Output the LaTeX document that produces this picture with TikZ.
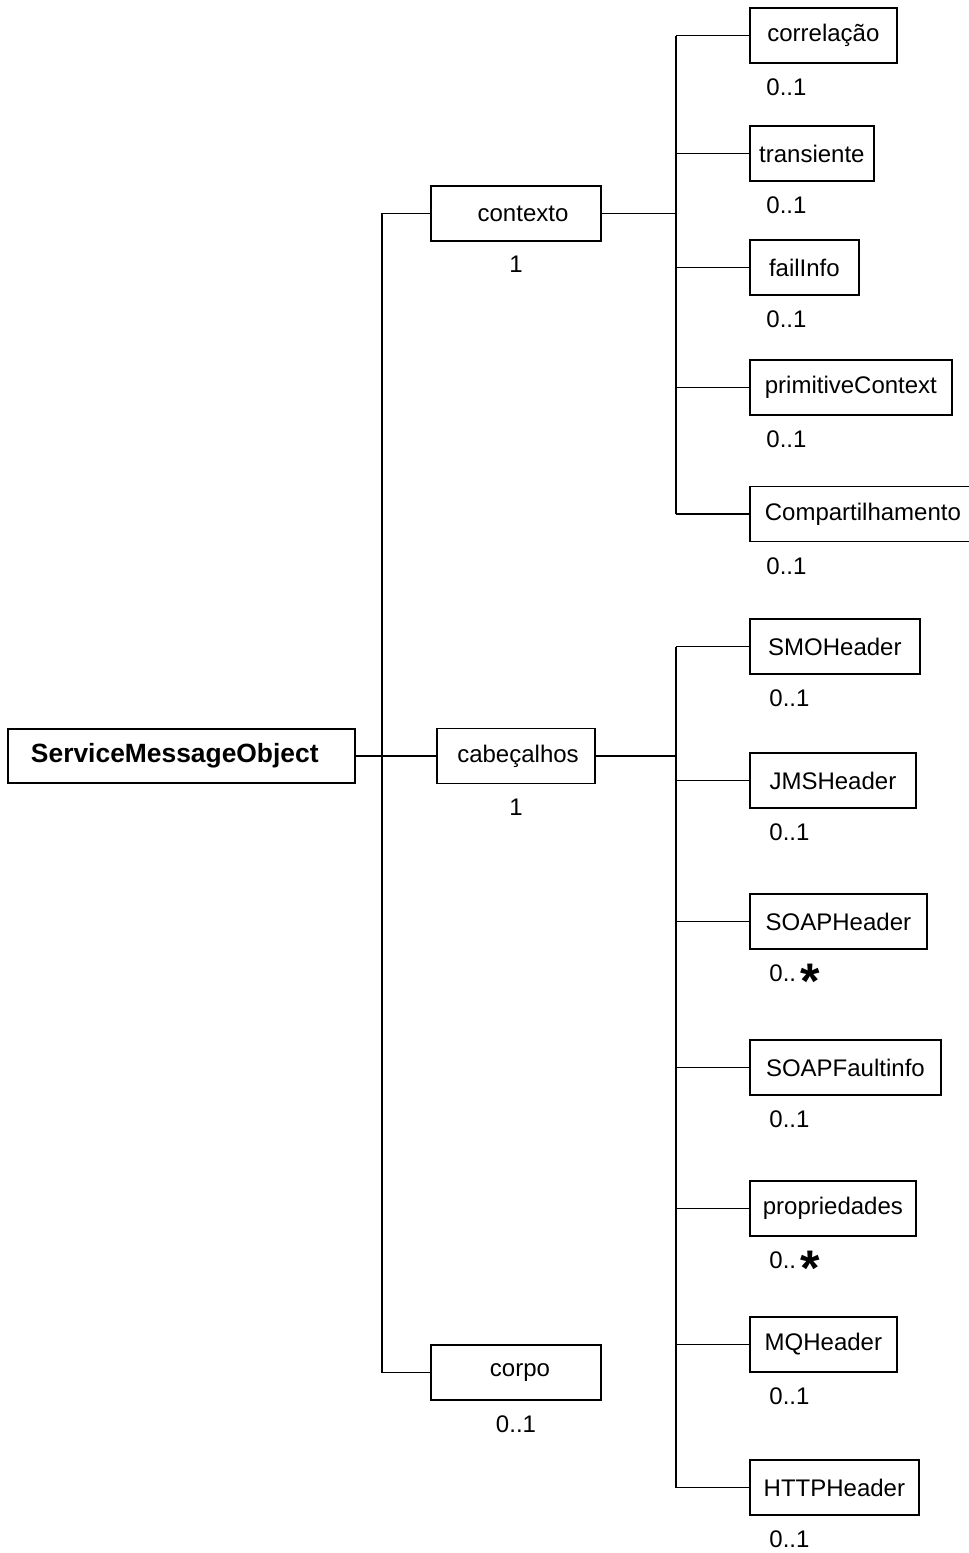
\documentclass[tikz,border=0pt]{standalone}
\usepackage{fontspec}
\setmainfont{Liberation Sans}
\usepackage{amsmath}
\usetikzlibrary{positioning}

\tikzset{
  box/.style={draw, line width=0.9pt, minimum height=27.5pt, inner sep=0pt,
    font=\fontsize{12}{14}\selectfont},
  part/.style={box, anchor=west},
  mult/.style={inner sep=0pt, font=\fontsize{12}{14}\selectfont},
  link/.style={line width=0.9pt}
}
\newcommand{\manymult}{0..\,\smash{\raisebox{-8.6pt}{\fontsize{25}{25}\selectfont\bfseries *}}}

\begin{document}
\begin{tikzpicture}[x=0.5pt,y=-0.5pt]
  \useasboundingbox (0,0) rectangle (969,1553);

  % root
  \node[box, minimum height=27pt, inner xsep=11.5pt, text width=150.5pt, align=left,
    font=\bfseries\fontsize{13.2}{15}\selectfont] (smo) at (181.5,756) {ServiceMessageObject};

  % first level
  \node[box, minimum width=85pt] (ctx)   at (516,213.5)  {\hspace*{7pt}contexto};
  \node[box, minimum width=79pt] (cab)   at (516,756)    {\hspace*{2pt}cabeçalhos};
  \node[box, minimum width=85pt] (corpo) at (516,1372.5) {\hspace*{4pt}corpo};
  \node[mult, below=7pt of ctx]   (ctx-m)   {1};
  \node[mult, below=7pt of cab]   (cab-m)   {1};
  \node[mult, below=7pt of corpo] (corpo-m) {0..1};

  % parts of contexto
  \node[part, minimum width=73.5pt] (corr)  at (749,35.5)  {correlação};
  \node[part, minimum width=62pt]   (trans) at (749,153.5) {transiente};
  \node[part, minimum width=54.5pt] (fail)  at (749,267.5) {failInfo};
  \node[part, minimum width=101pt]  (prim)  at (749,387.5) {primitiveContext};
  \node[part, minimum width=113pt]  (comp)  at (749,514)   {Compartilhamento};
  \foreach \n in {corr,trans,fail,prim,comp}{%
    \node[mult, below right=7.25pt and 8.5pt of \n.south west] (\n-m) {0..1};
  }

  % parts of cabecalhos
  \node[part, minimum width=85pt]   (smoh)  at (749,646.5)  {SMOHeader};
  \node[part, minimum width=83pt]   (jms)   at (749,780.5)  {JMSHeader};
  \node[part, minimum width=88.5pt] (soap)  at (749,921.5)  {SOAPHeader};
  \node[part, minimum width=95.5pt] (fault) at (749,1067.5) {SOAPFaultinfo};
  \node[part, minimum width=83pt]   (prop)  at (749,1208.5) {propriedades};
  \node[part, minimum width=73.5pt] (mq)    at (749,1344.5) {MQHeader};
  \node[part, minimum width=84.5pt] (http)  at (749,1487.5) {HTTPHeader};
  \foreach \n/\m in {smoh/0..1,jms/0..1,soap/\manymult,fault/0..1,prop/\manymult,mq/0..1,http/0..1}{%
    \node[mult, below right=7.25pt and 10pt of \n.south west] (\n-m) {\m};
  }

  % connectors
  \coordinate (trunk)  at (382,756);
  \coordinate (ctxbus) at (676,213.5);
  \coordinate (cabbus) at (676,756);
  \draw[link] (smo) -- (cab);
  \draw[link] (ctx.west) -| (trunk) |- (corpo.west);
  \draw[link] (ctx) -- (ctxbus);
  \draw[link] (cab) -- (cabbus);
  \draw[link] (corr.west -| ctxbus) -- (comp.west -| ctxbus);
  \draw[link] (smoh.west -| cabbus) -- (http.west -| cabbus);
  \foreach \n in {corr,trans,fail,prim,comp}
    \draw[link] (\n.west -| ctxbus) -- (\n.west);
  \foreach \n in {smoh,jms,soap,fault,prop,mq,http}
    \draw[link] (\n.west -| cabbus) -- (\n.west);
\end{tikzpicture}
\end{document}
